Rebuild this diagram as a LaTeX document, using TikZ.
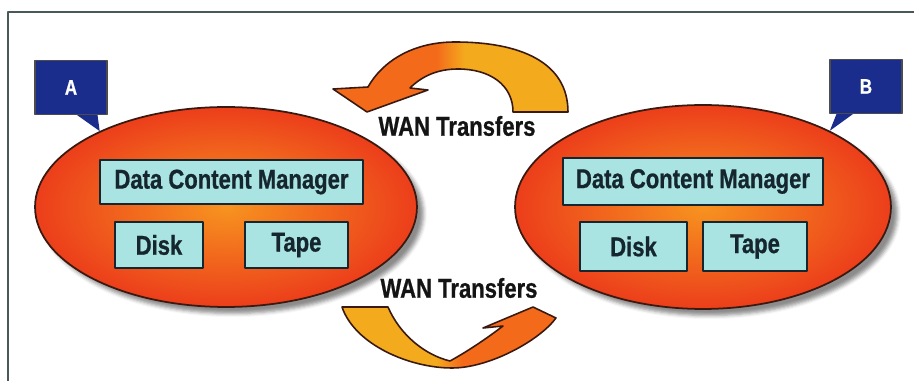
\documentclass[tikz,border=0pt]{standalone}
\usepackage{xcolor}
\usepackage{fontspec}
\setmainfont{Liberation Sans}
\newfontfamily\narrowbf{Liberation Sans}[FakeStretch=0.81,BoldFeatures={FakeBold=0.8}]
\usepackage{tikz}
\usetikzlibrary{shapes.geometric,shadows.blur}
\definecolor{ink}{HTML}{15262E}
\definecolor{cellfill}{HTML}{A9E3E2}
\definecolor{siteedge}{HTML}{EC3E1B}
\definecolor{sitecore}{HTML}{F7931F}
\definecolor{tagblue}{HTML}{1B2D8C}
\definecolor{wanorange}{HTML}{F36A1B}
\definecolor{wanyellow}{HTML}{F4AA1D}
\definecolor{rim}{HTML}{3A1A10}
\definecolor{framegray}{HTML}{4A5858}
\pgfdeclarehorizontalshading{wanback}{100bp}{color(0bp)=(wanorange); color(47bp)=(wanorange); color(53bp)=(wanyellow); color(100bp)=(wanyellow)}
\pgfdeclarehorizontalshading{wanforth}{100bp}{color(0bp)=(wanyellow); color(47bp)=(wanyellow); color(53bp)=(wanorange); color(100bp)=(wanorange)}
\tikzset{
    every picture/.style={line join=round},
    site/.style={ellipse,draw=rim,line width=1pt,inner sep=0pt,
      inner color=sitecore,outer color=siteedge,
      blur shadow={shadow xshift=1.3mm,shadow yshift=-1.3mm,shadow opacity=45}},
    cell/.style={draw=ink,fill=cellfill,line width=0.9pt,inner sep=0pt,
      text=ink,font=\narrowbf\bfseries\fontsize{15.5}{18}\selectfont},
    tag/.style={draw=black!70,fill=tagblue,line width=0.6pt,inner sep=0pt,
      minimum width=14.4mm,minimum height=10.8mm,text=white,
      font=\narrowbf\bfseries\fontsize{12}{14}\selectfont},
    wanarrow/.style={draw=rim,line width=0.9pt},
    wanlabel/.style={text=black!92,font=\narrowbf\bfseries\fontsize{15.5}{18}\selectfont}
}
\begin{document}
\begin{tikzpicture}[x=0.02cm,y=-0.02cm]
  \useasboundingbox (0,0) rectangle (914,381);
  \draw[framegray,line width=1.2pt] (8,381) -- (8,12) -- (914,12);
  % the two sites
  \node[site,minimum width=76.4mm,minimum height=40mm] (siteA) at (226,207) {};
  \node[site,minimum width=75.2mm,minimum height=40.8mm] (siteB) at (703,207) {};
  \node[cell,minimum width=52.6mm,minimum height=8.8mm] (dcmA) at (231.5,182) {Data Content Manager};
  \node[cell,minimum width=17.6mm,minimum height=9.2mm] (diskA) at (159,245) {Disk};
  \node[cell,minimum width=20.6mm,minimum height=9.2mm] (tapeA) at (296.5,245) {Tape};
  \node[cell,minimum width=52mm,minimum height=9.4mm] (dcmB) at (693,181.5) {Data Content Manager};
  \node[cell,minimum width=21.4mm,minimum height=9.8mm] (diskB) at (633.5,246.5) {Disk};
  \node[cell,minimum width=20.8mm,minimum height=9.8mm] (tapeB) at (755,246.5) {Tape};
  % callout tags
  \node[tag] (tagA) at (71,87.5) {A};
  \node[tag] (tagB) at (866,86.5) {B};
  \fill[tagblue] ([xshift=1.2mm]tagA.south) -- ([xshift=-2mm]tagA.south east) -- (siteA.149) -- cycle;
  \fill[tagblue] ([xshift=1.4mm]tagB.south west) -- ([xshift=-2.6mm]tagB.south) -- (siteB.31) -- cycle;
  % WAN transfer arrows
  \path[wanarrow,shading=wanback]
    (568,112) .. controls (568,62) and (520,42) .. (455,42)
    .. controls (412,42) and (382,62) .. (368,87) -- (333,89) -- (367,112) -- (428,90) -- (410,88)
    .. controls (422,76) and (438,69) .. (458,69)
    .. controls (490,69) and (513,85) .. (513,112) -- cycle;
  \path[wanarrow,shading=wanforth]
    (342,307) -- (388,307) .. controls (400,335) and (425,355) .. (450,361)
    .. controls (470,350) and (490,336) .. (503,326) -- (483,328) -- (533,307) -- (556,318)
    .. controls (540,340) and (490,368) .. (452,368)
    .. controls (410,368) and (355,345) .. (342,307) -- cycle;
  \node[wanlabel] (wanTop) at (457,126) {WAN Transfers};
  \node[wanlabel] (wanBottom) at (459,288) {WAN Transfers};
\end{tikzpicture}
\end{document}
